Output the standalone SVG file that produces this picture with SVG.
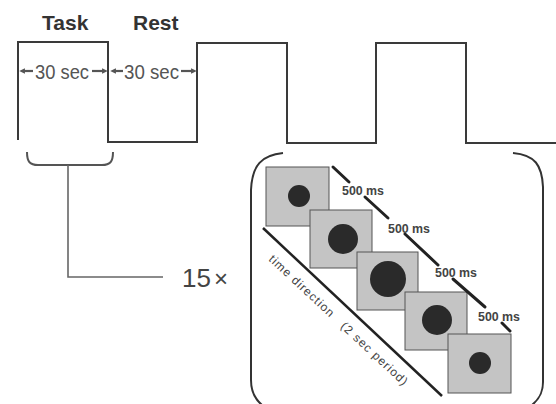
<svg xmlns="http://www.w3.org/2000/svg" width="556" height="404" viewBox="0 0 556 404">
<defs>
<style>
.wave{fill:none;stroke:#3a3a3a;stroke-width:2}
.brace{fill:none;stroke:#555;stroke-width:2}
.lead{fill:none;stroke:#666;stroke-width:1.6}
.big{fill:none;stroke:#333;stroke-width:2}
.hdr{font-family:"Liberation Sans",Arial,sans-serif;font-weight:bold;font-size:21px;fill:#333}
.dur{font-family:"Liberation Sans",Arial,sans-serif;font-size:20px;fill:#555}
.arr{stroke:#555;stroke-width:2.2;marker-end:url(#ah)}
.scr{fill:#c4c4c4;stroke:#555;stroke-width:1}
.dot{fill:#2a2a2a}
.seg{stroke:#222;stroke-width:3;stroke-linecap:round}
.ms{font-family:"Liberation Sans",Arial,sans-serif;font-weight:bold;font-size:12px;fill:#444}
.td{font-family:"Liberation Sans",Arial,sans-serif;font-size:12px;fill:#444;letter-spacing:1px}
</style>
<marker id="ah" viewBox="0 0 6 6" refX="1" refY="3" markerWidth="2.6" markerHeight="2.6" orient="auto">
<path d="M0,0 L6,3 L0,6 z" fill="#555"/>
</marker>
</defs>

<g id="timeline">
<path class="wave" d="M18,140 V42 H108 V142 H197 V43 H287 V143 H376 V43 H466 V143 H556"/>
<text class="hdr" x="42" y="30">Task</text>
<text class="hdr" x="133" y="30">Rest</text>
<line class="arr" x1="33" y1="71" x2="24" y2="71"/>
<text class="dur" x="35" y="79" textLength="54" lengthAdjust="spacingAndGlyphs">30 sec</text>
<line class="arr" x1="92" y1="71" x2="103" y2="71"/>
<line class="arr" x1="123" y1="71" x2="115" y2="71"/>
<text class="dur" x="124" y="79" textLength="55" lengthAdjust="spacingAndGlyphs">30 sec</text>
<line class="arr" x1="181" y1="71" x2="192" y2="71"/>
</g>

<g id="connectors">
<path class="brace" d="M27,152 C27,162 30,165 38,165 L102,165 C110,165 113,162 113,152"/>
<path class="lead" d="M68,165 V277 H163"/>
</g>

<g id="repeat">
<text x="182" y="287" font-family="Liberation Sans,Arial,sans-serif" font-size="26" fill="#444">15<tspan dx="3" font-size="24">×</tspan></text>
</g>

<g id="trial">
<path class="big" d="M283,153 C262,155 252,165 251,190 L251,380 C251,392 256,400 262,405"/>
<path class="big" d="M513,153 C535,155 542,165 543,187 L543,382 C543,394 538,400 532,405"/>

<g id="screen1"><rect class="scr" x="266" y="167" width="63" height="59"/><circle class="dot" cx="299" cy="196" r="11"/></g>
<g id="screen2"><rect class="scr" x="310" y="210" width="62" height="58"/><circle class="dot" cx="343" cy="239" r="15"/></g>
<g id="screen3"><rect class="scr" x="357" y="252" width="61" height="58"/><circle class="dot" cx="388" cy="279" r="18"/></g>
<g id="screen4"><rect class="scr" x="405" y="292" width="62" height="58"/><circle class="dot" cx="437" cy="320" r="15"/></g>
<g id="screen5"><rect class="scr" x="448" y="334" width="63" height="59"/><circle class="dot" cx="480" cy="363" r="11"/></g>

<g id="durations">
<line class="seg" x1="333" y1="167" x2="349" y2="182"/>
<line class="seg" x1="365" y1="197" x2="388" y2="218"/>
<line class="seg" x1="405" y1="234" x2="438" y2="265"/>
<line class="seg" x1="453" y1="279" x2="485" y2="307"/>
<line class="seg" x1="502" y1="323" x2="510" y2="331"/>
<text class="ms" x="342" y="195" textLength="42" lengthAdjust="spacingAndGlyphs">500 ms</text>
<text class="ms" x="388" y="233" textLength="42" lengthAdjust="spacingAndGlyphs">500 ms</text>
<text class="ms" x="435" y="277" textLength="42" lengthAdjust="spacingAndGlyphs">500 ms</text>
<text class="ms" x="478" y="321" textLength="42" lengthAdjust="spacingAndGlyphs">500 ms</text>
</g>

<g id="time-axis">
<line x1="263" y1="228" x2="442" y2="396" stroke="#222" stroke-width="2.5"/>
<text class="td" transform="translate(268,260) rotate(43)" xml:space="preserve">time direction   (2 sec period)</text>
</g>
</g>
</svg>
